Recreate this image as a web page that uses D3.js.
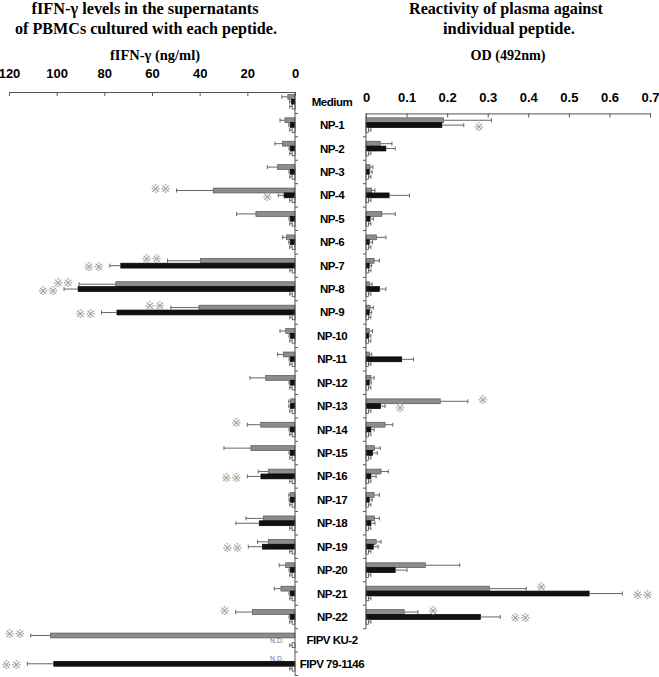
<!DOCTYPE html>
<html>
<head>
<meta charset="utf-8">
<script src="https://cdn.jsdelivr.net/npm/d3@7"></script>
<style>
  body { margin: 0; background: #fff; }
  svg { display: block; }
  .title { font-family: "Liberation Serif", "Times New Roman", serif; font-weight: bold; fill: #000; }
  .tick text { font-family: "Liberation Sans", Arial, sans-serif; font-weight: bold; font-size: 13px; fill: #000; }
  .cat { font-family: "Liberation Sans", Arial, sans-serif; font-weight: bold; font-size: 11.5px; letter-spacing: -0.5px; fill: #000; }
  .star { font-family: "DejaVu Sans", sans-serif; font-size: 12px; fill: #9a9a9a; }
</style>
</head>
<body>
<svg id="chart" width="659" height="677"></svg>
<script>
// categories (rows, top to bottom)
const categories = ["Medium", "NP-1", "NP-2", "NP-3", "NP-4", "NP-5", "NP-6", "NP-7", "NP-8",
  "NP-9", "NP-10", "NP-11", "NP-12", "NP-13", "NP-14", "NP-15", "NP-16", "NP-17", "NP-18",
  "NP-19", "NP-20", "NP-21", "NP-22", "FIPV KU-2", "FIPV 79-1146"];
const peptides = categories.slice(1, 23);

// left panel: fIFN-gamma (ng/ml), mean and SD, null = N.D.
const ifnGray    = [3, 4.2, 5.2, 7.3, 34.3, 16.4, 3.5, 39.6, 75.2, 40.3, 3.9, 4.9, 12.3, 1.8, 14.4, 18.5, 11.2, 2.0, 13.3, 11.2, 3.9, 5.9, 17.9, 102.6, null];
const ifnGraySd  = [2.5, 2.1, 3.2, 4.3, 15.4, 8.1, 1.7, 13.9, 15.4, 11.8, 2.4, 2.4, 6.6, 0.8, 5.6, 11.3, 4.2, 0.6, 7.3, 4.5, 2.7, 2.8, 7.0, 8.3, null];
const ifnBlack   = [1.5, 2, 2, 2, 4.6, 2, 2, 73.1, 91.0, 74.7, 2, 2, 2, 2, 2, 2, 14.3, 2, 15.0, 13.7, 2, 2, 2, null, 101.2];
const ifnBlackSd = [0.8, 0.6, 0.5, 0.5, 2.4, 0.5, 0.6, 4.6, 5.9, 6.5, 0.5, 0.5, 0.5, 0.6, 0.5, 0.5, 5.7, 0.5, 9.8, 5.9, 0.5, 0.5, 0.5, null, 11.1];
const ifnWhite   = [1.2, 1.2, 1.2, 1.2, 1.2, 1.2, 1.2, 1.2, 1.2, 1.2, 1.2, 1.2, 1.2, 1.2, 1.2, 1.2, 1.2, 1.2, 1.2, 1.2, 1.2, 1.2, 1.2, 1.2, 1.2];
const ifnWhiteSd = [1, 1, 1, 1, 1, 1, 1, 1, 1, 1, 1, 1, 1, 1, 1, 1, 1, 1, 1, 1, 1, 1, 1, 1, 1];
const ifnStars = [
  { cat: "NP-4", s: "gray", t: "※※" }, { cat: "NP-4", s: "black", t: "※" },
  { cat: "NP-7", s: "gray", t: "※※" }, { cat: "NP-7", s: "black", t: "※※" },
  { cat: "NP-8", s: "gray", t: "※※" }, { cat: "NP-8", s: "black", t: "※※" },
  { cat: "NP-9", s: "gray", t: "※※" }, { cat: "NP-9", s: "black", t: "※※" },
  { cat: "NP-14", s: "gray", t: "※" }, { cat: "NP-16", s: "black", t: "※※" },
  { cat: "NP-19", s: "black", t: "※※" }, { cat: "NP-22", s: "gray", t: "※" },
  { cat: "FIPV KU-2", s: "gray", t: "※※" }, { cat: "FIPV 79-1146", s: "black", t: "※※" }
];
const leftTicks = [0, 20, 40, 60, 80, 100, 120];

// right panel: OD (492nm), NP-1 .. NP-22
const odGray    = [0.191, 0.035, 0.010, 0.014, 0.039, 0.026, 0.020, 0.008, 0.010, 0.008, 0.008, 0.012, 0.183, 0.047, 0.021, 0.037, 0.020, 0.021, 0.025, 0.146, 0.304, 0.094];
const odGraySd  = [0.118, 0.029, 0.007, 0.008, 0.033, 0.023, 0.013, 0.007, 0.008, 0.008, 0.006, 0.008, 0.068, 0.019, 0.014, 0.018, 0.013, 0.012, 0.012, 0.085, 0.091, 0.034];
const odBlack   = [0.187, 0.049, 0.008, 0.057, 0.010, 0.008, 0.008, 0.033, 0.008, 0.007, 0.088, 0.008, 0.036, 0.012, 0.016, 0.012, 0.008, 0.012, 0.018, 0.072, 0.550, 0.282];
const odBlackSd = [0.054, 0.023, 0.007, 0.050, 0.008, 0.008, 0.006, 0.016, 0.006, 0.005, 0.029, 0.005, 0.011, 0.008, 0.012, 0.013, 0.007, 0.010, 0.012, 0.029, 0.082, 0.049];
const odWhite   = [0.006, 0.006, 0.006, 0.006, 0.006, 0.006, 0.006, 0.006, 0.006, 0.006, 0.006, 0.006, 0.006, 0.006, 0.006, 0.006, 0.006, 0.006, 0.006, 0.006, 0.006, 0.006];
const odWhiteSd = [0.006, 0.006, 0.006, 0.006, 0.006, 0.006, 0.006, 0.006, 0.006, 0.006, 0.006, 0.006, 0.006, 0.006, 0.006, 0.006, 0.006, 0.006, 0.006, 0.006, 0.006, 0.006];
const odStars = [
  { cat: "NP-1", s: "black", t: "※" },
  { cat: "NP-13", s: "gray", t: "※" }, { cat: "NP-13", s: "black", t: "※" },
  { cat: "NP-21", s: "gray", t: "※" }, { cat: "NP-21", s: "black", t: "※※" },
  { cat: "NP-22", s: "gray", t: "※" }, { cat: "NP-22", s: "black", t: "※※" }
];
const rightTicks = [0, 0.1, 0.2, 0.3, 0.4, 0.5, 0.6, 0.7];

const svg = d3.select("#chart");

const fills = { gray: "#8c8c8c", black: "#111", white: "#fff" };
const strokes = { gray: "#555", black: "#000", white: "#333" };
const starShift = { gray: -1.5, black: 1.5, white: 0 };

// scales
const y = d3.scaleBand().domain(categories).range([90, 90 + categories.length * 23.42]);
const yR = d3.scaleBand().domain(peptides)
  .range([y("NP-1"), y("NP-22") + y.step()]);
const sub = d3.scaleBand().domain(["gray", "black", "white"]).range([4.4, 19]);
const xL = d3.scaleLinear().domain([0, 120]).range([295, 9]);
const xR = d3.scaleLinear().domain([0, 0.7]).range([366, 650]);

function rows(cats, means, sds, key) {
  return cats.map((c, i) => ({ cat: c, s: key, v: means[i], sd: sds[i] }));
}

function panel(g, x, yb, data, stars, gap) {
  const valid = data.filter(d => d.v != null);
  const cy = d => yb(d.cat) + sub(d.s) + sub.bandwidth() / 2;

  g.selectAll("rect.bar").data(valid).join("rect")
    .attr("class", "bar")
    .attr("x", d => Math.min(x(0), x(d.v)))
    .attr("width", d => Math.abs(x(d.v) - x(0)))
    .attr("y", d => yb(d.cat) + sub(d.s))
    .attr("height", sub.bandwidth())
    .attr("fill", d => fills[d.s])
    .attr("stroke", d => strokes[d.s])
    .attr("stroke-width", 0.7);

  g.selectAll("line.err").data(valid).join("line")
    .attr("class", "err")
    .attr("x1", d => x(d.v)).attr("x2", d => x(d.v + d.sd))
    .attr("y1", cy).attr("y2", cy)
    .attr("stroke", "#666").attr("stroke-width", 1);

  g.selectAll("line.cap").data(valid).join("line")
    .attr("class", "cap")
    .attr("x1", d => x(d.v + d.sd)).attr("x2", d => x(d.v + d.sd))
    .attr("y1", d => cy(d) - 2).attr("y2", d => cy(d) + 2)
    .attr("stroke", "#666").attr("stroke-width", 1);

  const lookup = new Map(valid.map(d => [d.cat + "|" + d.s, d]));
  g.selectAll("text.star").data(stars).join("text")
    .attr("class", "star")
    .attr("text-anchor", gap < 0 ? "end" : "start")
    .attr("x", s => { const d = lookup.get(s.cat + "|" + s.s); return x(d.v + d.sd) + gap; })
    .attr("y", s => yb(s.cat) + sub(s.s) + sub.bandwidth() / 2 + 4 + starShift[s.s])
    .text(s => s.t);
}

// ---- left panel
const left = svg.append("g");
const leftData = [].concat(
  rows(categories, ifnGray, ifnGraySd, "gray"),
  rows(categories, ifnBlack, ifnBlackSd, "black"),
  rows(categories, ifnWhite, ifnWhiteSd, "white"));
panel(left, xL, y, leftData, ifnStars, -6);

// N.D. marks
left.selectAll("text.nd").data(leftData.filter(d => d.v == null)).join("text")
  .attr("class", "nd")
  .attr("x", xL(0) - 18).attr("text-anchor", "middle")
  .attr("y", d => y(d.cat) + sub(d.s) + sub.bandwidth())
  .attr("font-family", "Liberation Sans, Arial, sans-serif")
  .attr("font-size", 7).attr("fill", "#777")
  .text("N.D.");

const axL = left.append("g").attr("transform", "translate(0,92)")
  .call(d3.axisTop(xL).tickValues(leftTicks).tickSizeInner(-4).tickSizeOuter(-4).tickPadding(14));
axL.selectAll("path, line").attr("stroke", "#555");

left.append("line")
  .attr("x1", xL(0)).attr("x2", xL(0))
  .attr("y1", 92).attr("y2", y.range()[1])
  .attr("stroke", "#555");
left.selectAll("line.vt").data(categories.slice(1).map(c => y(c)).concat([y.range()[1]])).join("line")
  .attr("class", "vt")
  .attr("x1", xL(0)).attr("x2", xL(0) + 3)
  .attr("y1", d => d).attr("y2", d => d)
  .attr("stroke", "#555");

// ---- right panel
const right = svg.append("g");
const rightData = [].concat(
  rows(peptides, odGray, odGraySd, "gray"),
  rows(peptides, odBlack, odBlackSd, "black"),
  rows(peptides, odWhite, odWhiteSd, "white"));
panel(right, xR, yR, rightData, odStars, 10);

const axR = right.append("g").attr("transform", "translate(0," + yR.range()[0] + ")")
  .call(d3.axisTop(xR).tickValues(rightTicks).tickSizeInner(-4).tickSizeOuter(-4).tickPadding(11)
    .tickFormat(d => d === 0 ? "0" : d3.format(".1f")(d)));
axR.selectAll("path, line").attr("stroke", "#555");

right.append("line")
  .attr("x1", xR(0)).attr("x2", xR(0))
  .attr("y1", yR.range()[0]).attr("y2", yR.range()[1])
  .attr("stroke", "#555");
right.selectAll("line.vt").data(peptides.slice(1).map(c => yR(c)).concat([yR.range()[1]])).join("line")
  .attr("class", "vt")
  .attr("x1", xR(0) - 3).attr("x2", xR(0))
  .attr("y1", d => d).attr("y2", d => d)
  .attr("stroke", "#555");

// ---- category labels
svg.selectAll("text.cat").data(categories).join("text")
  .attr("class", "cat")
  .attr("x", 332).attr("text-anchor", "middle")
  .attr("y", d => y(d) + y.step() / 2 + 4)
  .text(d => d);

// ---- titles
const titles = [
  { t: "fIFN-γ levels in the supernatants", x: 145, y: 14, w: 227, s: 17 },
  { t: "of PBMCs cultured with each peptide.", x: 146, y: 34, w: 262, s: 17 },
  { t: "fIFN-γ (ng/ml)", x: 155, y: 60, w: 90, s: 14 },
  { t: "Reactivity of plasma against", x: 506, y: 14, w: 194, s: 17 },
  { t: "individual peptide.", x: 509, y: 34, w: 132, s: 17 },
  { t: "OD (492nm)", x: 508, y: 60, w: 75, s: 14 }
];
svg.selectAll("text.title").data(titles).join("text")
  .attr("class", "title")
  .attr("x", d => d.x).attr("y", d => d.y)
  .attr("text-anchor", "middle")
  .attr("font-size", d => d.s)
  .attr("textLength", d => d.w)
  .attr("lengthAdjust", "spacingAndGlyphs")
  .text(d => d.t);
</script>
</body>
</html>
